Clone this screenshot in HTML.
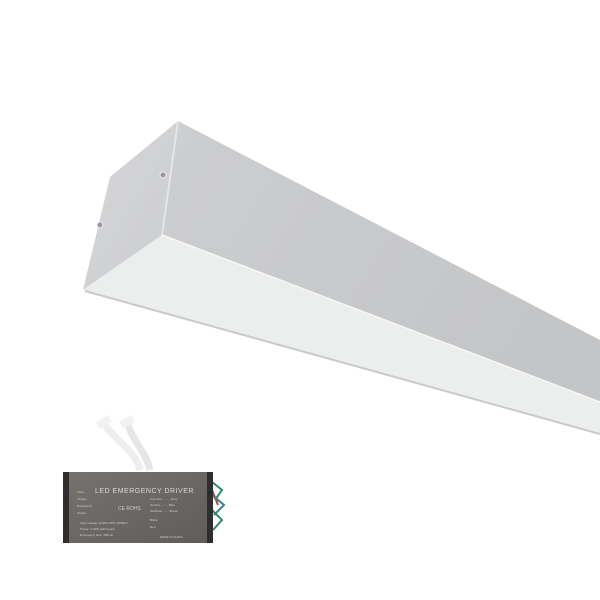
<!DOCTYPE html>
<html><head><style>
html,body{margin:0;padding:0;background:#fff;width:600px;height:600px;overflow:hidden}
</style></head><body>
<svg width="600" height="600" viewBox="0 0 600 600" xmlns="http://www.w3.org/2000/svg">
<defs>
<linearGradient id="top" x1="0" y1="0" x2="1" y2="0.4">
<stop offset="0" stop-color="#cdced0"/><stop offset="1" stop-color="#c4c5c7"/></linearGradient>
<linearGradient id="cap" x1="0" y1="0" x2="1" y2="1">
<stop offset="0" stop-color="#d6d7d9"/><stop offset="1" stop-color="#cbcccf"/></linearGradient>
<linearGradient id="box" x1="0" y1="0" x2="1" y2="1">
<stop offset="0" stop-color="#76726f"/><stop offset="1" stop-color="#5f5c5a"/></linearGradient>
</defs>
<polygon points="178,121 110,177 83,290 162,235" fill="url(#cap)"/>
<polygon points="178,121 600,340 600,402 162,235" fill="url(#top)"/>
<line x1="178" y1="121" x2="162" y2="235" stroke="#e4e5e7" stroke-width="2"/>
<polygon points="162,235 600,402 600,434 83,290" fill="#eceded"/>
<line x1="162" y1="235" x2="600" y2="402" stroke="#f7f7f7" stroke-width="1.5"/>
<line x1="85" y1="291" x2="600" y2="434" stroke="#c9cacc" stroke-width="2"/>
<circle cx="163" cy="175" r="3" fill="#999" stroke="#eee"/>
<circle cx="100" cy="225" r="3" fill="#999" stroke="#eee"/>
<!-- wires -->
<path d="M140,470 C135,450 115,440 105,425" stroke="#eee" stroke-width="7" fill="none"/>
<path d="M150,470 C145,450 135,445 128,425" stroke="#e6e6e6" stroke-width="7" fill="none"/>
<rect x="97" y="418" width="14" height="8" fill="#f2f2f2" transform="rotate(-30 104 422)"/>
<rect x="120" y="418" width="14" height="8" fill="#f2f2f2" transform="rotate(-30 127 422)"/>
<g stroke-width="2" fill="none">
<path d="M212,482 L222,490 L215,500" stroke="#2f8a6a"/>
<path d="M212,495 L224,505 L214,515" stroke="#3a7f8f"/>
<path d="M212,510 L222,520 L213,530" stroke="#2f8a6a"/>
<path d="M212,490 L218,505" stroke="#8a5a4a"/>
</g>
<rect x="63" y="472" width="150" height="71" fill="url(#box)"/>
<rect x="63" y="472" width="6" height="71" fill="#2e2e2e"/>
<rect x="207" y="472" width="6" height="71" fill="#2e2e2e"/>
<text x="95" y="493" font-family="Liberation Sans, sans-serif" font-size="7" fill="#d8d8d8" letter-spacing="0.5">LED EMERGENCY DRIVER</text>
<g font-family="Liberation Sans, sans-serif" font-size="3" fill="#cfcfcf">
<text x="77" y="493">Fault</text><text x="77" y="500">Charge</text><text x="77" y="507">Emergency</text><text x="77" y="514">Output</text>
<text x="80" y="524">Input voltage: AC220-240V 50/60Hz</text>
<text x="80" y="530">Power: 3-40W LED lamps</text>
<text x="80" y="536">Emergency time: 180min</text>
<text x="118" y="510" font-size="5">CE ROHS</text>
<text x="150" y="500">Live wire ......... Grey</text>
<text x="150" y="506">Neutral ......... Blue</text>
<text x="150" y="512">Switched ....... Brown</text>
<text x="150" y="521">Black</text><text x="150" y="528">Red</text>
<text x="160" y="538">MADE IN CHINA</text>
</g>
</svg>
</body></html>
